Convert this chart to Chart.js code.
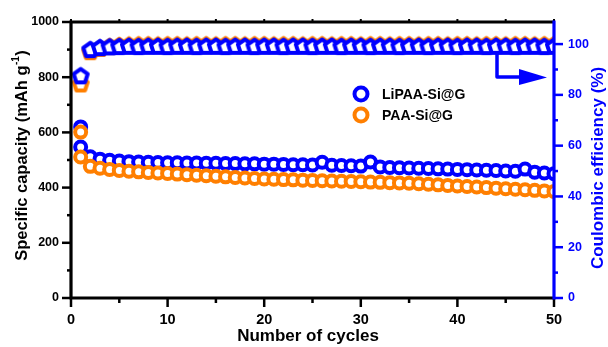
<!DOCTYPE html>
<html>
<head>
<meta charset="utf-8">
<script src="https://cdn.jsdelivr.net/npm/chart.js@4.4.1/dist/chart.umd.min.js"></script>
<style>
  html, body { margin: 0; padding: 0; background: #fff; }
  #wrap { width: 608px; height: 347px; position: relative; }
</style>
</head>
<body>
<div id="wrap"><canvas id="c" width="608" height="347"></canvas></div>
<script>
// Cycle numbers (capacity has discharge + charge points for cycle 1)
const capCycles = [1, 1, 2, 3, 4, 5, 6, 7, 8, 9, 10, 11, 12, 13, 14, 15, 16, 17, 18, 19, 20,
  21, 22, 23, 24, 25, 26, 27, 28, 29, 30, 31, 32, 33, 34, 35, 36, 37, 38, 39, 40,
  41, 42, 43, 44, 45, 46, 47, 48, 49, 50];
const ceCycles = [1, 2, 3, 4, 5, 6, 7, 8, 9, 10, 11, 12, 13, 14, 15, 16, 17, 18, 19, 20,
  21, 22, 23, 24, 25, 26, 27, 28, 29, 30, 31, 32, 33, 34, 35, 36, 37, 38, 39, 40,
  41, 42, 43, 44, 45, 46, 47, 48, 49, 50];

// Specific capacity (mAh g-1)
const liPaaCapacity = [620, 547, 512, 503, 499, 496, 494, 493, 492, 491, 490, 490, 489, 489, 488, 488,
  487, 487, 486, 486, 485, 485, 484, 483, 483, 482, 492, 481, 480, 479, 478, 493, 475, 473, 472, 471,
  470, 469, 468, 467, 466, 465, 464, 463, 462, 460, 459, 467, 456, 453, 450];
const paaCapacity = [601, 511, 477, 470, 466, 462, 459, 457, 455, 453, 451, 449, 447, 445, 443, 441,
  439, 437, 435, 433, 431, 430, 429, 428, 427, 426, 425, 424, 423, 422, 421, 420, 419, 418, 417, 416,
  414, 412, 410, 408, 406, 404, 402, 400, 398, 396, 394, 392, 390, 388, 386];

// Coulombic efficiency (%)
const liPaaCE = [87.7, 98.0, 98.8, 99.1, 99.2, 99.3, 99.2, 99.3, 99.3, 99.2, 99.3, 99.3, 99.2, 99.3,
  99.3, 99.2, 99.3, 99.3, 99.2, 99.3, 99.3, 99.2, 99.3, 99.3, 99.2, 99.3, 99.3, 99.2, 99.3, 99.3,
  99.2, 99.3, 99.3, 99.2, 99.3, 99.3, 99.2, 99.3, 99.3, 99.2, 99.3, 99.3, 99.2, 99.3, 99.3, 99.2,
  99.3, 99.3, 99.2, 99.3];
const paaCE = [84.5, 97.2, 98.5, 99.2, 99.6, 99.8, 99.9, 99.9, 99.8, 99.9, 99.9, 99.8, 99.9, 99.9,
  99.8, 99.9, 99.9, 99.8, 99.9, 99.9, 99.8, 99.9, 99.9, 99.8, 99.9, 99.9, 99.8, 99.9, 99.9, 99.8,
  99.9, 99.9, 99.8, 99.9, 99.9, 99.8, 99.9, 99.9, 99.8, 99.9, 99.9, 99.8, 99.9, 99.9, 99.8, 99.9,
  99.9, 99.8, 99.9, 99.9];

// Tick values
const xTicks = [0, 10, 20, 30, 40, 50];
const capTicks = [0, 200, 400, 600, 800, 1000];
const ceTicks = [0, 20, 40, 60, 80, 100];

const BLUE = 'rgb(0,0,255)';
const ORANGE = 'rgb(255,127,0)';
const FONT = 'Arial, "Liberation Sans", sans-serif';

function pentagon(color) {
  const s = 24, R = 7.4;
  const cv = document.createElement('canvas');
  cv.width = s; cv.height = s;
  const g = cv.getContext('2d');
  g.beginPath();
  for (let i = 0; i < 5; i++) {
    const a = -Math.PI / 2 + i * 2 * Math.PI / 5;
    const px = s / 2 + R * Math.cos(a), py = s / 2 + 1 + R * Math.sin(a);
    if (i === 0) g.moveTo(px, py); else g.lineTo(px, py);
  }
  g.closePath();
  g.fillStyle = '#fff';
  g.fill();
  g.lineWidth = 4;
  g.lineJoin = 'round';
  g.strokeStyle = color;
  g.stroke();
  return cv;
}

const pts = (xs, ys) => ys.map((v, i) => ({ x: xs[i], y: v }));

const decorations = {
  id: 'decorations',
  afterDatasetsDraw(chart) {
    const ctx = chart.ctx;
    const a = chart.chartArea;
    const xs = chart.scales.x, yl = chart.scales.y, yr = chart.scales.y1;
    ctx.save();
    ctx.lineCap = 'butt';

    function tickV(y, x0, x1, color, w) {
      ctx.strokeStyle = color; ctx.lineWidth = w;
      ctx.beginPath(); ctx.moveTo(x0, y); ctx.lineTo(x1, y); ctx.stroke();
    }
    function tickH(x, y0, y1, color, w) {
      ctx.strokeStyle = color; ctx.lineWidth = w;
      ctx.beginPath(); ctx.moveTo(x, y0); ctx.lineTo(x, y1); ctx.stroke();
    }
    // major and minor ticks
    for (let v = 0; v <= 1000; v += 100) {
      const y = yl.getPixelForValue(v);
      const major = v % 200 === 0;
      tickV(y, a.left - (major ? 9 : 4), a.left, '#000', 2.5);
    }
    for (let v = 0; v <= 100; v += 10) {
      const y = yr.getPixelForValue(v);
      const major = v % 20 === 0;
      tickV(y, a.right, a.right + (major ? 9 : 4), BLUE, 2.5);
    }
    for (let v = 0; v <= 50; v += 5) {
      const x = xs.getPixelForValue(v);
      const major = v % 10 === 0;
      tickH(x, a.bottom, a.bottom + (major ? 9 : 5), '#000', 2.5);
      tickH(x, a.top, a.top - 3, '#000', 2);
    }

    // axis lines
    ctx.lineWidth = 3.2;
    ctx.strokeStyle = '#000';
    ctx.beginPath();
    ctx.moveTo(a.left, a.bottom + 1.5); ctx.lineTo(a.left, a.top - 1.5);
    ctx.moveTo(a.left - 1.5, a.top); ctx.lineTo(a.right, a.top);
    ctx.moveTo(a.left - 1.5, a.bottom); ctx.lineTo(a.right, a.bottom);
    ctx.stroke();
    ctx.strokeStyle = BLUE;
    ctx.beginPath();
    ctx.moveTo(a.right, a.top - 1.5); ctx.lineTo(a.right, a.bottom + 1.5);
    ctx.stroke();

    // arrow pointing to the efficiency axis
    ctx.strokeStyle = BLUE; ctx.fillStyle = BLUE; ctx.lineWidth = 3.5;
    ctx.lineJoin = 'round';
    ctx.beginPath();
    ctx.moveTo(497, 54); ctx.lineTo(497, 77); ctx.lineTo(522, 77);
    ctx.stroke();
    ctx.beginPath();
    ctx.moveTo(519, 69); ctx.lineTo(547, 77.5); ctx.lineTo(519, 85);
    ctx.closePath(); ctx.fill();

    // legend
    const legend = [['LiPAA-Si@G', BLUE, 94], ['PAA-Si@G', ORANGE, 115]];
    ctx.font = 'bold 14px ' + FONT;
    ctx.textBaseline = 'middle';
    ctx.textAlign = 'left';
    legend.forEach(([label, color, y]) => {
      ctx.beginPath(); ctx.arc(361, y, 6.5, 0, Math.PI * 2);
      ctx.fillStyle = '#fff'; ctx.fill();
      ctx.lineWidth = 4; ctx.strokeStyle = color; ctx.stroke();
      ctx.fillStyle = '#000';
      ctx.fillText(label, 382, y + 1);
    });

    // axis titles
    ctx.font = 'bold 17px ' + FONT;
    ctx.fillStyle = '#000';
    ctx.textAlign = 'center';
    ctx.textBaseline = 'middle';
    ctx.fillText('Number of cycles', 308, 336);

    // left title with superscript
    ctx.save();
    ctx.translate(22, 156);
    ctx.rotate(-Math.PI / 2);
    const main = 'Specific capacity (mAh g';
    const sup = '-1';
    const tail = ')';
    ctx.font = 'bold 16.5px ' + FONT;
    const w1 = ctx.measureText(main).width;
    const w3 = ctx.measureText(tail).width;
    ctx.font = 'bold 10px ' + FONT;
    const w2 = ctx.measureText(sup).width;
    const x0 = -(w1 + w2 + w3) / 2;
    ctx.textAlign = 'left';
    ctx.font = 'bold 16.5px ' + FONT;
    ctx.fillText(main, x0, 0);
    ctx.font = 'bold 10px ' + FONT;
    ctx.fillText(sup, x0 + w1 + 0.5, -6);
    ctx.font = 'bold 16.5px ' + FONT;
    ctx.fillText(tail, x0 + w1 + w2 + 1, 0);
    ctx.restore();

    ctx.save();
    ctx.translate(598, 168);
    ctx.rotate(-Math.PI / 2);
    ctx.font = 'bold 17px ' + FONT;
    ctx.fillStyle = BLUE;
    ctx.textAlign = 'center';
    ctx.fillText('Coulombic efficiency (%)', 0, 0);
    ctx.restore();

    ctx.restore();
  }
};

const setTicks = (vals) => (scale) => { scale.ticks = vals.map(v => ({ value: v })); };
const plain = (v) => String(v);

new Chart(document.getElementById('c'), {
  type: 'scatter',
  data: {
    datasets: [
      {
        label: 'LiPAA-Si@G CE', data: pts(ceCycles, liPaaCE), yAxisID: 'y1',
        pointStyle: pentagon(BLUE), pointRadius: 8, showLine: false
      },
      {
        label: 'PAA-Si@G CE', data: pts(ceCycles, paaCE), yAxisID: 'y1',
        pointStyle: pentagon(ORANGE), pointRadius: 8, showLine: false
      },
      {
        label: 'PAA-Si@G', data: pts(capCycles, paaCapacity), yAxisID: 'y',
        pointStyle: 'circle', pointRadius: 5.5, borderWidth: 4,
        borderColor: ORANGE, backgroundColor: '#fff', showLine: false
      },
      {
        label: 'LiPAA-Si@G', data: pts(capCycles, liPaaCapacity), yAxisID: 'y',
        pointStyle: 'circle', pointRadius: 5.5, borderWidth: 4,
        borderColor: BLUE, backgroundColor: '#fff', showLine: false
      }
    ]
  },
  options: {
    responsive: false,
    animation: false,
    events: [],
    layout: { padding: { top: 22, left: 0, right: 0, bottom: 0 } },
    plugins: { legend: { display: false }, tooltip: { enabled: false }, title: { display: false } },
    scales: {
      x: {
        type: 'linear', position: 'bottom', min: 0, max: 50,
        afterBuildTicks: setTicks(xTicks),
        afterFit: (s) => { s.height = 49; },
        grid: { display: false, drawTicks: false },
        border: { display: false },
        ticks: { color: '#000', font: { family: FONT, size: 14.5, weight: 'bold' }, padding: 13, maxRotation: 0, callback: plain }
      },
      y: {
        type: 'linear', position: 'left', min: 0, max: 1000,
        afterBuildTicks: setTicks(capTicks),
        afterFit: (s) => { s.width = 71; },
        grid: { display: false, drawTicks: false },
        border: { display: false },
        ticks: { color: '#000', font: { family: FONT, size: 12.5, weight: 'bold' }, padding: 12, callback: plain }
      },
      y1: {
        type: 'linear', position: 'right', min: 0, max: 108.7,
        afterBuildTicks: setTicks(ceTicks),
        afterFit: (s) => { s.width = 54; },
        grid: { display: false, drawTicks: false },
        border: { display: false },
        ticks: { color: BLUE, font: { family: FONT, size: 12.5, weight: 'bold' }, padding: 14, callback: plain }
      }
    }
  },
  plugins: [decorations]
});
</script>
</body>
</html>
